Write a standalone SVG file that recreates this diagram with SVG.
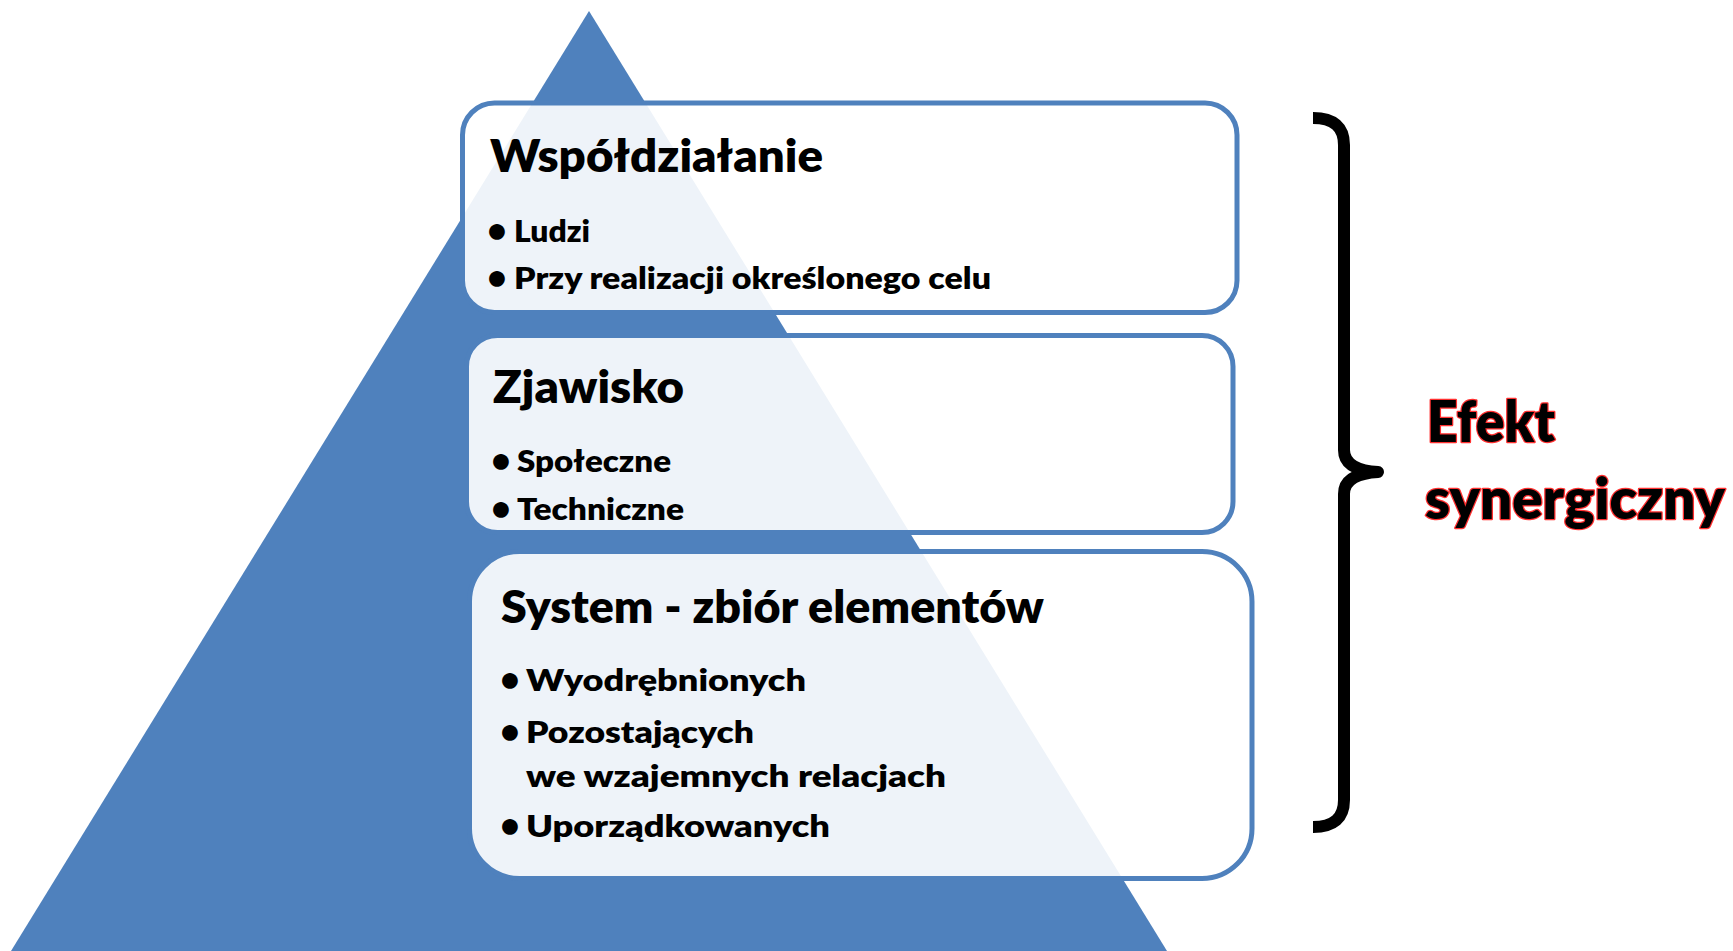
<svg xmlns="http://www.w3.org/2000/svg" width="1733" height="951" viewBox="0 0 1733 951">
  <style>
    .box { fill: #ffffff; fill-opacity: 0.9; stroke: #4f81bd; stroke-width: 5; }
    .title { font-family: Lato, "Open Sans", "Liberation Sans", sans-serif; font-weight: 800; font-size: 45px; fill: #000000; }
    .item { font-family: Lato, "Open Sans", "Liberation Sans", sans-serif; font-weight: 800; font-size: 30px; fill: #000000; }
    .dot { font-family: Lato, "Open Sans", "Liberation Sans", sans-serif; font-weight: 700; font-size: 36px; fill: #000000; text-anchor: middle; }
    .effect { font-family: Lato, "Open Sans", "Liberation Sans", sans-serif; font-weight: 800; font-size: 56px; fill: #000000; stroke: #ff3030; stroke-width: 2.5; paint-order: stroke; stroke-linejoin: round; }
  </style>
  <rect width="1733" height="951" fill="#ffffff"/>

  <!-- background pyramid -->
  <polygon id="pyramid" points="589,11 11,951 1167,951" fill="#4f81bd"/>

  <!-- top layer -->
  <g id="node-wspoldzialanie">
    <rect class="box" x="462.5" y="103" width="774.5" height="209.5" rx="32" ry="32"/>
    <text class="title" x="490" y="172" textLength="333" lengthAdjust="spacingAndGlyphs">Współdziałanie</text>
    <text class="dot" x="497" y="243">•</text>
    <text class="item" x="514" y="242" textLength="76" lengthAdjust="spacingAndGlyphs">Ludzi</text>
    <text class="dot" x="497" y="290">•</text>
    <text class="item" x="514" y="289" textLength="477" lengthAdjust="spacingAndGlyphs">Przy realizacji określonego celu</text>
  </g>

  <!-- middle layer -->
  <g id="node-zjawisko">
    <rect class="box" x="466.5" y="335.5" width="766.5" height="197" rx="31" ry="31"/>
    <text class="title" x="493" y="403" textLength="191" lengthAdjust="spacingAndGlyphs">Zjawisko</text>
    <text class="dot" x="501" y="473">•</text>
    <text class="item" x="517" y="472" textLength="154" lengthAdjust="spacingAndGlyphs">Społeczne</text>
    <text class="dot" x="501" y="521">•</text>
    <text class="item" x="517" y="520" textLength="167" lengthAdjust="spacingAndGlyphs">Techniczne</text>
  </g>

  <!-- bottom layer -->
  <g id="node-system">
    <rect class="box" x="469.5" y="551.5" width="782.5" height="327" rx="50" ry="50"/>
    <text class="title" x="501" y="623" textLength="543" lengthAdjust="spacingAndGlyphs">System - zbiór elementów</text>
    <text class="dot" x="510" y="692">•</text>
    <text class="item" x="526" y="691" textLength="280" lengthAdjust="spacingAndGlyphs">Wyodrębnionych</text>
    <text class="dot" x="510" y="744">•</text>
    <text class="item" x="526" y="743" textLength="228" lengthAdjust="spacingAndGlyphs">Pozostających</text>
    <text class="item" x="526" y="787" textLength="420" lengthAdjust="spacingAndGlyphs">we wzajemnych relacjach</text>
    <text class="dot" x="510" y="838">•</text>
    <text class="item" x="526" y="837" textLength="304" lengthAdjust="spacingAndGlyphs">Uporządkowanych</text>
  </g>

  <!-- curly brace grouping the three layers -->
  <g id="connectors">
    <path d="M1313,118 Q1344,118 1344,145 L1344,450 Q1344,470 1378,472 Q1344,474 1344,494 L1344,800 Q1344,827 1313,827"
          fill="none" stroke="#000000" stroke-width="12" stroke-linejoin="round" stroke-linecap="butt"/>
  </g>

  <g id="label-effect">
    <text class="effect" x="1427" y="442" textLength="128" lengthAdjust="spacingAndGlyphs">Efekt</text>
    <text class="effect" x="1425" y="519" textLength="300" lengthAdjust="spacingAndGlyphs">synergiczny</text>
  </g>
</svg>
